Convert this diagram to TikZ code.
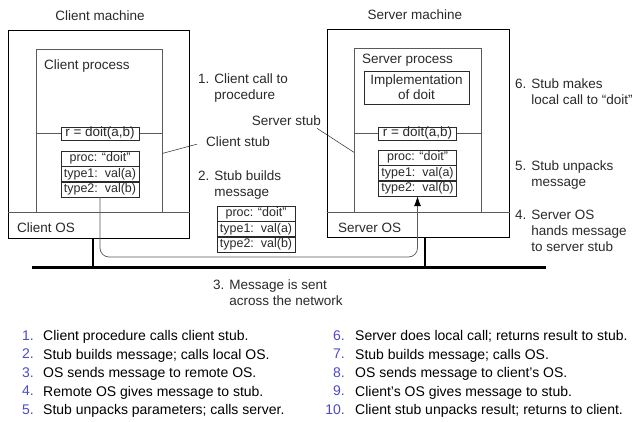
\documentclass[tikz,border=0pt]{standalone}
\usepackage{fontspec}
\setmainfont{Liberation Sans}
\usepackage{xcolor}
\definecolor{rpcgray}{HTML}{5A5A5A}
\definecolor{rpctext}{HTML}{2A2A2A}
\definecolor{rpcblue}{HTML}{4B4BC8}
\usetikzlibrary{arrows.meta, positioning}

\begin{document}
\begin{tikzpicture}[x=1pt, y=-1pt,
    machine/.style={draw, line width=1.4pt, anchor=north west, inner sep=0pt},
    procbox/.style={draw=rpcgray, line width=0.7pt, anchor=north west, inner sep=0pt},
    procline/.style={draw=rpcgray, line width=0.7pt},
    callbox/.style={draw=rpctext, line width=0.7pt, fill=white, minimum width=78pt,
      minimum height=13pt, inner sep=0pt, text=rpctext, font=\fontsize{13.5}{15}\selectfont},
    msgrow/.style={draw=rpctext, line width=0.7pt, fill=white, minimum width=78pt,
      minimum height=14.7pt, inner sep=0pt, text=rpctext, font=\fontsize{12.5}{14}\selectfont},
    lbl/.style={text=rpctext, inner sep=0pt, align=left, font=\fontsize{13.5}{16}\selectfont},
    legnum/.style={text=rpcblue, inner sep=0pt, font=\fontsize{14}{17}\selectfont},
    legtext/.style={text=black, inner sep=0pt, font=\fontsize{14}{17}\selectfont}]
  \useasboundingbox (0,0) rectangle (643,421);
  \fill[white] (0,0) rectangle (643,421);

  % fixed heights
  \coordinate (osline) at (0,212);
  \coordinate (stubline) at (0,133.5);
  \coordinate (wire) at (0,257);
  \coordinate (netL) at (32,267);
  \coordinate (netR) at (546,267);
  \coordinate (ctap) at (93,267);
  \coordinate (stap) at (425,267);

  % client machine
  \node[machine, minimum width=181pt, minimum height=208pt] (cmach) at (8,30) {};
  \node[lbl, anchor=north] (cmachname) at (100,11) {Client machine};
  \node[procbox, minimum width=126pt, minimum height=163pt] (cproc) at (36,49) {};
  \node[lbl, anchor=north west] (cprocname) at (44,60) {Client process};
  \draw[procline] (cmach.west |- osline) -- (cmach.east |- osline);
  \node[lbl, anchor=north west] (cos) at (17,223) {Client OS};
  \draw[procline] (cproc.west |- stubline) -- (cproc.east |- stubline);
  \node[callbox] (ccall) at (100,133.5) {r = doit(a,b)};

  % server machine
  \node[machine, minimum width=182pt, minimum height=208pt] (smach) at (327,29) {};
  \node[lbl, anchor=north] (smachname) at (415,10) {Server machine};
  \node[procbox, minimum width=127pt, minimum height=164pt] (sproc) at (354,48) {};
  \node[lbl, anchor=north west] (sprocname) at (362,54) {Server process};
  \node[draw=rpctext, line width=0.7pt, minimum width=105pt, minimum height=33pt,
        inner sep=0pt, align=center, text=rpctext, font=\fontsize{13.5}{15}\selectfont]
        (impl) at (416.5,87.5) {Implementation\\of doit};
  \draw[procline] (smach.west |- osline) -- (smach.east |- osline);
  \node[lbl, anchor=north west] (sos) at (338,223) {Server OS};
  \draw[procline] (sproc.west |- stubline) -- (sproc.east |- stubline);
  \node[callbox] (scall) at (417.5,133.5) {r = doit(a,b)};

  % messages
  \foreach \n/\x/\y in {cmsg/100/151, mmsg/256/206, smsg/417.5/150}{
    \node[msgrow, anchor=north] (\n1) at (\x,\y) {proc: “doit”};
    \node[msgrow, anchor=north] (\n2) at (\n1.south) {type1:\ \ val(a)};
    \node[msgrow, anchor=north] (\n3) at (\n2.south) {type2:\ \ val(b)};
  }

  % network
  \draw[line width=3pt] (netL) -- (netR);
  \draw[line width=2pt] (cmach.south -| ctap) -- (ctap);
  \draw[line width=2pt] (smach.south -| stap) -- (stap);
  \draw[rpcgray, line width=0.7pt, rounded corners=9pt,
        -{Latex[length=10pt, width=7pt, color=black]}]
    (cmsg3.south) -- (cmsg3.south |- wire) -- (smsg3.south |- wire) -- (smsg3.south);

  % stub pointers
  \node[lbl, anchor=north west] (cstub) at (206,137) {Client stub};
  \node[lbl, anchor=north east] (sstub) at (321,116) {Server stub};
  \draw[rpctext, line width=0.5pt] ([yshift=-22.5pt]cproc.east) -- ([xshift=-9pt,yshift=-2pt]cstub.west);
  \draw[rpctext, line width=0.5pt] ([xshift=-4pt,yshift=-2pt]sstub.south east) -- ([yshift=-22pt]sproc.west);

  % steps
  \node[lbl, anchor=north west] (step1) at (198,74) {1. Client call to\\\hphantom{1. }procedure};
  \node[lbl, anchor=north west] (step2) at (198,171) {2. Stub builds\\\hphantom{2. }message};
  \node[lbl, anchor=north west] (step3) at (213,280) {3. Message is sent\\\hphantom{3. }across the network};
  \node[lbl, anchor=north west] (step4) at (515,210) {4. Server OS\\\hphantom{4. }hands message\\\hphantom{4. }to server stub};
  \node[lbl, anchor=north west] (step5) at (515,161) {5. Stub unpacks\\\hphantom{5. }message};
  \node[lbl, anchor=north west] (step6) at (515,79) {6. Stub makes\\\hphantom{6. }local call to “doit”};

  % legend
  \foreach \n/\y/\txt in {
      1/330.5/Client procedure calls client stub.,
      2/349/Stub builds message; calls local OS.,
      3/367.5/OS sends message to remote OS.,
      4/386/Remote OS gives message to stub.,
      5/404.5/Stub unpacks parameters; calls server.}{
    \node[legnum, anchor=north east] (num\n) at (34,\y) {\n.};
    \node[legtext, anchor=north west] (leg\n) at (43,\y) {\txt};
  }
  \foreach \n/\y/\txt in {
      6/330.5/Server does local call; returns result to stub.,
      7/349/Stub builds message; calls OS.,
      8/367.5/OS sends message to client’s OS.,
      9/386/Client’s OS gives message to stub.,
      10/404.5/Client stub unpacks result; returns to client.}{
    \node[legnum, anchor=north east] (num\n) at (345,\y) {\n.};
    \node[legtext, anchor=north west] (leg\n) at (355,\y) {\txt};
  }
\end{tikzpicture}
\end{document}
